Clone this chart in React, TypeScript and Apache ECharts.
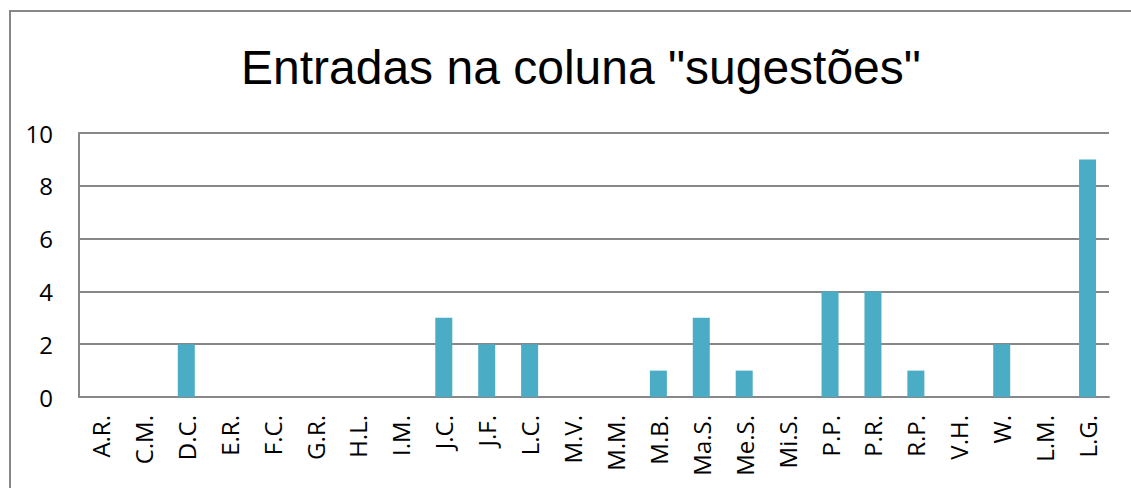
import React, { useEffect, useRef } from "react";
import * as echarts from "echarts";

const titleText = 'Entradas na coluna "sugestões"';
const categories = ["A.R.", "C.M.", "D.C.", "E.R.", "F.C.", "G.R.", "H.L.", "I.M.", "J.C.", "J.F.", "L.C.", "M.V.", "M.M.", "M.B.", "Ma.S.", "Me.S.", "Mi.S.", "P.P.", "P.R.", "R.P.", "V.H.", "W.", "L.M.", "L.G."];
const values = [0, 0, 2, 0, 0, 0, 0, 0, 3, 2, 2, 0, 0, 1, 3, 1, 0, 4, 4, 1, 0, 2, 0, 9];

export default function App() {
  const ref = useRef<HTMLDivElement>(null);
  useEffect(() => {
    document.body.style.margin = "0";
    const chart = echarts.init(ref.current!, null, { renderer: "svg" });
    const gray = "#878787";
    chart.setOption({
      animation: false,
      backgroundColor: "#ffffff",
      graphic: [
        {
          type: "rect",
          shape: { x: 10, y: 11, width: 1200, height: 600 },
          style: { fill: "none", stroke: gray, lineWidth: 2 },
          silent: true,
        },
      ],
      title: {
        text: titleText,
        left: 236,
        top: 38,
        textStyle: { fontFamily: "Liberation Sans", fontSize: 48, fontWeight: "normal", color: "#000" },
      },
      grid: { left: 79, right: 22, top: 133, bottom: 91 },
      xAxis: {
        type: "category",
        data: categories,
        axisLine: { show: true, lineStyle: { color: gray, width: 2 } },
        axisTick: { show: false },
        axisLabel: {
          rotate: 90,
          margin: 18,
          interval: 0,
          fontFamily: "Open Sans",
          fontSize: 24,
          color: "#000",
        },
      },
      yAxis: {
        type: "value",
        min: 0,
        max: 10,
        interval: 2,
        axisLine: { show: true, lineStyle: { color: gray, width: 2 } },
        axisTick: { show: false },
        splitLine: { show: true, lineStyle: { color: gray, width: 2 } },
        axisLabel: { margin: 26, fontFamily: "Open Sans", fontSize: 24, color: "#000" },
      },
      series: [
        {
          type: "bar",
          data: values,
          barWidth: 17,
          itemStyle: { color: "#4BACC6" },
        },
      ],
    });
    return () => chart.dispose();
  }, []);
  return <div ref={ref} style={{ width: 1131, height: 488 }} />;
}
